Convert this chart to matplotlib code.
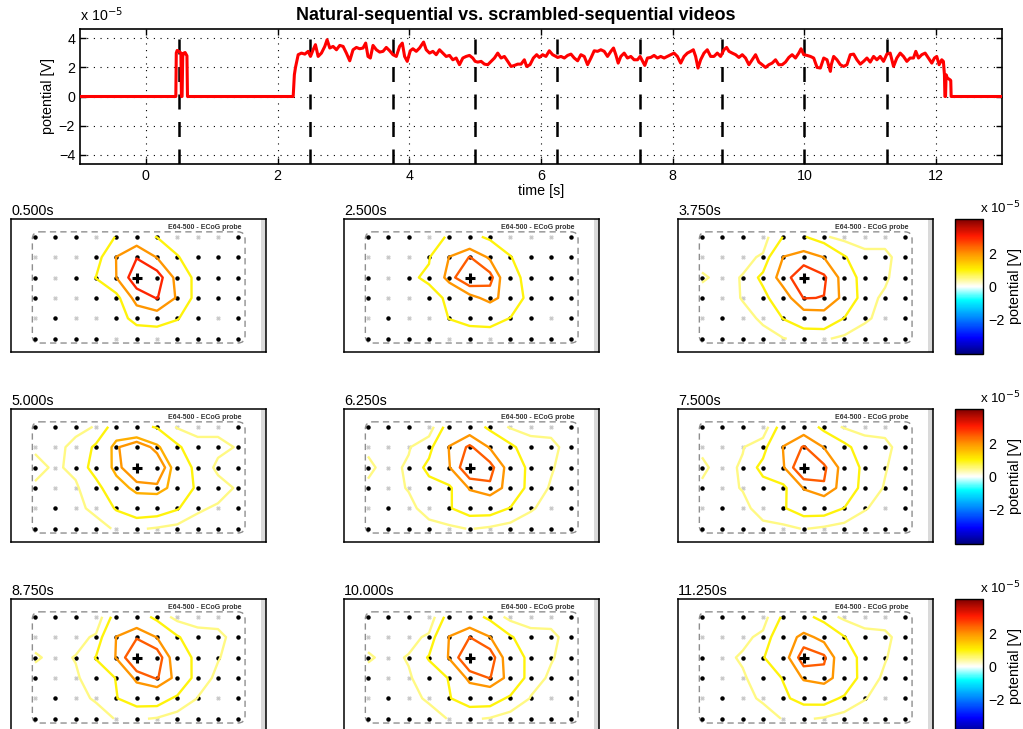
import numpy as np
import matplotlib as mpl
import matplotlib.pyplot as plt
from matplotlib.colors import LinearSegmentedColormap, Normalize
from matplotlib.patches import FancyBboxPatch

plt.rcParams['font.family'] = ['Liberation Sans', 'DejaVu Sans']

# ---- data (potential in units of 1e-5 V) ----
sig_t = [-1.0, 0.455, 0.462, 0.475, 0.500, 0.520, 0.532, 0.540, 0.550, 0.560, 0.572, 0.596,
         0.612, 0.624, 0.632, 2.237, 2.255, 2.272, 2.313,
         2.363, 2.414, 2.464, 2.500, 2.540, 2.575, 2.616, 2.666, 2.717, 2.752, 2.793, 2.843,
         2.894, 2.944, 2.995, 3.045, 3.096, 3.146, 3.197, 3.247, 3.298, 3.338, 3.373, 3.409,
         3.449, 3.500, 3.550, 3.601, 3.651, 3.702, 3.752, 3.803, 3.853, 3.894, 3.929, 3.969,
         4.015, 4.055, 4.106, 4.156, 4.217, 4.257, 4.308, 4.358, 4.409, 4.459, 4.510, 4.560,
         4.611, 4.661, 4.712, 4.762, 4.813, 4.863, 4.914, 4.964, 5.000, 5.040, 5.091, 5.141,
         5.192, 5.242, 5.293, 5.343, 5.394, 5.444, 5.495, 5.545, 5.596, 5.646, 5.697, 5.747,
         5.782, 5.833, 5.884, 5.934, 5.975, 6.025, 6.075, 6.126, 6.176, 6.227,
         6.253, 6.303, 6.354, 6.404, 6.455, 6.505, 6.556, 6.606, 6.657, 6.707, 6.758, 6.808,
         6.859, 6.909, 6.960, 7.010, 7.061, 7.101, 7.136, 7.172, 7.212, 7.263, 7.313, 7.364,
         7.414, 7.465, 7.505, 7.540, 7.576, 7.616, 7.667, 7.717, 7.768, 7.818, 7.869, 7.919,
         7.970, 8.020, 8.071, 8.121, 8.172, 8.222, 8.273, 8.313, 8.348, 8.384, 8.424, 8.475,
         8.525, 8.576, 8.626, 8.677, 8.727, 8.778, 8.818, 8.854, 8.904, 8.955, 9.005, 9.056,
         9.106, 9.157, 9.207, 9.258, 9.308, 9.359, 9.409, 9.460, 9.510, 9.561, 9.611, 9.662,
         9.712, 9.763, 9.813, 9.864, 9.914, 9.949, 9.990, 10.040, 10.091, 10.141, 10.192,
         10.242, 10.293, 10.343, 10.394,
         10.408, 10.444, 10.494, 10.545, 10.595, 10.646, 10.696, 10.747, 10.797, 10.848,
         10.898, 10.949, 10.999, 11.050, 11.100, 11.151, 11.201, 11.252, 11.302, 11.353,
         11.403, 11.454, 11.504, 11.555, 11.605, 11.656, 11.691, 11.732, 11.782, 11.833,
         11.883, 11.934, 11.974, 12.009, 12.045, 12.085, 12.110, 12.126, 12.133, 12.143,
         12.151, 12.171, 12.212, 12.222, 12.228, 13.0]
sig_v = [0.0, 0.0, 3.00, 3.17, 3.12, 3.05, 3.00, 0.0, 0.0, 2.75, 2.98, 3.03,
         2.90, 2.80, 0.0, 0.0, 1.50, 2.00, 2.88,
         2.99, 2.92, 3.11, 2.76, 3.22, 3.57, 2.76, 2.99, 3.45, 3.91, 3.34, 3.45,
         3.22, 3.52, 3.45, 2.99, 2.46, 3.22, 3.38, 3.29, 3.34, 3.68, 2.76, 2.65,
         3.52, 3.22, 3.06, 3.11, 3.38, 3.15, 2.88, 2.76, 3.45, 3.68, 2.76, 2.42,
         3.15, 3.29, 3.11, 3.34, 3.75, 3.22, 2.99, 3.11, 2.88, 3.22, 2.99, 2.76,
         2.83, 2.53, 2.65, 2.19, 2.65, 2.76, 2.83, 2.65, 2.42, 2.37, 2.42, 2.23,
         2.19, 2.42, 2.65, 2.99, 2.65, 2.76, 2.42, 2.07, 2.14, 2.23, 2.23, 2.53,
         2.07, 2.19, 2.65, 2.88, 2.69, 2.88, 2.76, 3.15, 2.88, 2.76,
         2.69, 2.76, 2.65, 2.83, 2.92, 2.65, 2.46, 2.88, 2.76, 2.19, 2.65, 3.15,
         3.11, 3.22, 3.11, 2.76, 3.11, 3.34, 2.88, 2.30, 2.76, 2.99, 2.65, 2.76,
         2.53, 2.53, 2.76, 2.46, 2.14, 2.65, 2.69, 2.83, 2.65, 2.76, 2.65, 2.76,
         2.88, 2.99, 2.76, 2.30, 2.76, 2.99, 3.11, 3.22, 2.76, 1.96, 2.53, 2.99,
         3.22, 2.76, 2.76, 2.99, 2.76, 3.22, 3.38, 3.11, 2.99, 2.88, 2.69, 2.88,
         2.65, 2.19, 2.53, 2.88, 2.37, 2.19, 2.00, 2.19, 2.30, 2.53, 2.19, 2.19,
         2.37, 2.69, 2.88, 2.65, 2.99, 3.29, 2.88, 2.83, 2.76, 2.65, 2.00,
         1.96, 2.65, 2.53, 1.73,
         2.19, 2.76, 2.53, 2.19, 2.07, 2.19, 2.88, 2.92, 2.53, 2.23,
         2.42, 2.65, 2.37, 2.76, 2.53, 2.76, 2.42, 2.92, 2.99, 2.07,
         2.65, 2.99, 2.76, 2.42, 2.65, 2.65, 3.11, 2.65, 2.88, 2.99,
         2.65, 2.30, 2.65, 2.76, 2.19, 2.53, 2.42, 1.50, 0.0, 0.0,
         1.50, 1.27, 1.15, 1.10, 0.0, 0.0]

frame_times = [0.5, 2.5, 3.75, 5.0, 6.25, 7.5, 8.75, 10.0, 11.25]

# electrode potentials (6 rows x 11 columns) for each snapshot
grid_0500 = [[0.30, 0.35, 0.45, 0.60, 1.03, 1.25, 0.97, 0.60, 0.45, 0.35, 0.30],
             [0.30, 0.40, 0.50, 0.60, 2.02, 2.95, 1.95, 1.05, 0.55, 0.40, 0.30],
             [0.30, 0.40, 0.60, 1.02, 2.00, 3.70, 3.54, 1.62, 0.73, 0.45, 0.30],
             [0.30, 0.40, 0.50, 0.60, 0.70, 2.40, 3.05, 1.88, 0.62, 0.40, 0.30],
             [0.30, 0.35, 0.40, 0.50, 0.60, 1.30, 1.38, 1.05, 0.50, 0.35, 0.30],
             [0.25, 0.30, 0.35, 0.35, 0.40, 0.40, 0.45, 0.40, 0.35, 0.30, 0.25]]
grid_2500 = [[0.20, 0.30, 0.40, 0.70, 1.08, 1.25, 0.83, 0.60, 0.40, 0.30, 0.20],
             [0.30, 0.40, 0.60, 0.95, 2.02, 2.52, 1.90, 1.03, 0.60, 0.40, 0.30],
             [0.30, 0.50, 0.90, 1.10, 2.30, 3.00, 2.70, 1.30, 0.70, 0.40, 0.30],
             [0.30, 0.40, 0.60, 0.80, 1.10, 1.80, 2.20, 1.70, 0.62, 0.40, 0.30],
             [0.20, 0.30, 0.40, 0.60, 1.02, 1.30, 1.30, 0.98, 0.60, 0.30, 0.20],
             [0.20, 0.20, 0.30, 0.40, 0.50, 0.50, 0.60, 0.50, 0.40, 0.30, 0.20]]
grid_3750 = [[0.30, 0.30, 0.35, 0.30, 1.02, 1.05, 0.55, 0.35, 0.35, 0.35, 0.30],
             [0.35, 0.35, 0.40, 0.55, 2.02, 2.40, 1.98, 1.05, 0.60, 0.60, 0.30],
             [0.55, 0.40, 0.52, 1.16, 2.45, 3.40, 2.94, 1.60, 0.60, 0.55, 0.30],
             [0.35, 0.35, 0.52, 0.80, 1.50, 2.83, 2.78, 1.73, 0.60, 0.45, 0.30],
             [0.30, 0.30, 0.40, 0.55, 1.02, 1.40, 1.50, 0.98, 0.55, 0.40, 0.30],
             [0.30, 0.30, 0.30, 0.40, 0.48, 0.60, 0.55, 0.40, 0.35, 0.30, 0.30]]
grid_5000 = [[0.40, 0.40, 0.40, 0.52, 1.32, 1.15, 0.95, 0.45, 0.40, 0.40, 0.40],
             [0.45, 0.40, 0.60, 1.10, 1.95, 2.30, 1.86, 1.10, 0.60, 0.60, 0.47],
             [0.60, 0.45, 0.58, 1.28, 1.89, 2.31, 2.33, 1.50, 0.79, 0.41, 0.40],
             [0.45, 0.30, 0.45, 0.77, 1.54, 1.87, 1.92, 1.58, 0.86, 0.65, 0.45],
             [0.40, 0.35, 0.40, 0.60, 1.05, 1.40, 1.35, 1.05, 0.55, 0.45, 0.40],
             [0.35, 0.35, 0.35, 0.35, 0.55, 0.55, 0.45, 0.35, 0.35, 0.35, 0.35]]
grid_6250 = [[0.35, 0.35, 0.30, 0.25, 1.30, 1.58, 0.78, 0.45, 0.35, 0.38, 0.30],
             [0.45, 0.40, 0.47, 0.78, 2.04, 2.60, 1.95, 1.12, 0.68, 0.60, 0.35],
             [0.56, 0.40, 0.55, 1.18, 1.97, 3.00, 2.70, 1.70, 0.74, 0.53, 0.35],
             [0.45, 0.40, 0.52, 0.76, 0.85, 2.08, 2.40, 1.72, 0.68, 0.47, 0.35],
             [0.35, 0.35, 0.42, 0.62, 0.96, 1.28, 1.30, 0.97, 0.53, 0.40, 0.35],
             [0.30, 0.30, 0.32, 0.40, 0.40, 0.52, 0.42, 0.30, 0.35, 0.30, 0.30]]
grid_7500 = [[0.35, 0.35, 0.30, 0.20, 1.34, 1.63, 0.73, 0.45, 0.35, 0.40, 0.30],
             [0.45, 0.40, 0.48, 0.75, 2.03, 2.55, 1.98, 1.15, 0.70, 0.58, 0.35],
             [0.55, 0.40, 0.54, 1.20, 1.95, 3.10, 2.60, 1.74, 0.75, 0.52, 0.35],
             [0.46, 0.40, 0.52, 0.75, 0.80, 2.05, 2.45, 1.70, 0.66, 0.48, 0.35],
             [0.35, 0.35, 0.40, 0.65, 0.95, 1.30, 1.33, 0.98, 0.52, 0.40, 0.35],
             [0.30, 0.30, 0.30, 0.40, 0.38, 0.52, 0.41, 0.30, 0.35, 0.30, 0.30]]
grid_8750 = [[0.30, 0.30, 0.30, 0.15, 1.30, 1.45, 0.77, 0.35, 0.30, 0.30, 0.30],
             [0.35, 0.35, 0.35, 0.57, 2.02, 2.45, 1.98, 1.05, 0.68, 0.63, 0.30],
             [0.55, 0.40, 0.52, 1.03, 2.05, 3.10, 2.86, 1.48, 0.79, 0.52, 0.35],
             [0.35, 0.35, 0.45, 0.70, 1.02, 2.20, 2.55, 1.79, 0.66, 0.43, 0.30],
             [0.30, 0.30, 0.40, 0.54, 0.98, 1.30, 1.33, 0.87, 0.49, 0.35, 0.30],
             [0.30, 0.30, 0.30, 0.35, 0.52, 0.55, 0.46, 0.30, 0.30, 0.30, 0.30]]
grid_10000 = [[0.30, 0.30, 0.30, 0.18, 1.28, 1.42, 0.78, 0.36, 0.30, 0.32, 0.30],
              [0.36, 0.35, 0.36, 0.58, 2.03, 2.50, 2.02, 1.06, 0.66, 0.62, 0.30],
              [0.55, 0.40, 0.53, 1.05, 2.07, 3.05, 2.84, 1.50, 0.78, 0.53, 0.35],
              [0.35, 0.36, 0.46, 0.70, 1.03, 2.22, 2.52, 1.76, 0.66, 0.44, 0.30],
              [0.30, 0.30, 0.40, 0.55, 0.97, 1.32, 1.34, 0.88, 0.48, 0.35, 0.30],
              [0.30, 0.30, 0.30, 0.36, 0.52, 0.56, 0.46, 0.30, 0.30, 0.30, 0.30]]
grid_11250 = [[0.30, 0.30, 0.30, 0.30, 1.10, 1.25, 0.70, 0.40, 0.30, 0.30, 0.30],
              [0.35, 0.35, 0.40, 0.60, 1.60, 2.20, 1.80, 1.02, 0.65, 0.60, 0.30],
              [0.45, 0.40, 0.55, 0.95, 1.70, 2.80, 2.60, 1.40, 0.75, 0.52, 0.35],
              [0.35, 0.35, 0.45, 0.70, 1.03, 2.10, 2.30, 1.60, 0.65, 0.45, 0.30],
              [0.30, 0.30, 0.40, 0.55, 0.90, 1.20, 1.25, 0.90, 0.52, 0.35, 0.30],
              [0.30, 0.30, 0.30, 0.35, 0.52, 0.55, 0.45, 0.30, 0.30, 0.30, 0.30]]
panel_grids = [grid_0500, grid_2500, grid_3750, grid_5000, grid_6250,
               grid_7500, grid_8750, grid_10000, grid_11250]
panel_levels = [[1, 2, 3], [1, 2, 2.5], [0.5, 1, 2, 2.8], [0.5, 1, 1.75, 2],
                [0.5, 1, 2, 2.5], [0.5, 1, 2, 2.5], [0.5, 1, 2, 2.5],
                [0.5, 1, 2, 2.5], [0.5, 1, 2, 2.5]]

# electrodes that show up faint on the probe picture (col, row)
faint_electrodes = [(3, 0), (7, 0), (8, 0), (9, 0), (0, 1), (1, 1), (2, 1), (1, 2),
                    (1, 3), (2, 3), (0, 4), (2, 4), (3, 4), (9, 4), (4, 5), (6, 5)]
stim_electrode = (5, 2)
clim = 4.15

# ---- colormap: blue - cyan - white - yellow - red ----
cmap = LinearSegmentedColormap.from_list("potential", [
    (0.0, (0.0, 0.0, 0.5)), (0.12, (0.0, 0.0, 1.0)), (0.26, (0.0, 0.5, 1.0)),
    (0.40, (0.0, 1.0, 1.0)), (0.5, (1.0, 1.0, 1.0)), (0.625, (1.0, 0.95, 0.0)),
    (0.75, (1.0, 0.56, 0.0)), (0.875, (1.0, 0.1, 0.0)), (1.0, (0.5, 0.0, 0.0))])
norm = Normalize(vmin=-clim, vmax=clim)

FS = 10.3
W, H = 1023, 729
fig = plt.figure(figsize=(W / 100, H / 100), dpi=100)

# ---- top: potential trace ----
ax = fig.add_axes([80 / W, 1 - 164 / H, 922 / W, 135 / H])
ax.plot(sig_t, sig_v, color="red", lw=2.2, zorder=3)
for ft in frame_times:
    ax.axvline(ft, color="black", lw=1.8, ls=(0, (6, 5)), zorder=2)
ax.set_xlim(-1, 13)
ax.set_ylim(-4.65, 4.65)
ax.set_xticks(range(0, 13, 2))
ax.set_yticks([-4, -2, 0, 2, 4])
ax.grid(True, color="black", ls=(0, (1, 5)), lw=0.8)
ax.tick_params(direction="in", top=True, right=True, length=4, labelsize=FS, width=1)
for s in ax.spines.values():
    s.set_linewidth(1.2)
ax.set_xlabel("time [s]", fontsize=FS, labelpad=1)
ax.set_ylabel("potential [V]", fontsize=FS, labelpad=3)
fig.text(80 / W, 1 - 15 / H, r"x 10$^{-5}$", fontsize=FS, va="center", ha="left")
fig.text(516 / W, 1 - 15 / H, "Natural-sequential vs. scrambled-sequential videos",
         fontsize=13, fontweight="bold", ha="center", va="center")

# ---- snapshot panels ----
cols = np.arange(11)
rows = np.arange(6)
ex, ey = np.meshgrid(cols, rows)
panel_lefts = [11, 344, 678]
panel_tops = [219, 409, 599]
pw, ph = 255, 133

for i, (ft, grid, levels) in enumerate(zip(frame_times, panel_grids, panel_levels)):
    r, c = divmod(i, 3)
    pax = fig.add_axes([panel_lefts[c] / W, 1 - (panel_tops[r] + ph) / H, pw / W, ph / H])
    pax.set_xlim(-1.18, 11.36)
    pax.set_ylim(5.65, -0.87)
    pax.axvspan(11.12, 11.36, color="#dadada", lw=0, zorder=0)
    pax.add_patch(FancyBboxPatch((-0.13, -0.24), 10.46, 5.45,
                                 boxstyle="round,pad=0,rounding_size=0.35",
                                 fill=False, ec="#8f8f8f", lw=1.0, ls=(0, (4.5, 3)), zorder=1))
    pax.plot(ex.ravel(), ey.ravel(), "o", ms=2.2, color="black", ls="none", zorder=1)
    fx = [p[0] for p in faint_electrodes]
    fy = [p[1] for p in faint_electrodes]
    pax.plot(fx, fy, "o", ms=2.6, color="white", ls="none", zorder=1.1)
    pax.plot(fx, fy, "o", ms=1.5, color="#c8c8c8", ls="none", zorder=1.2)
    pax.contour(cols, rows, np.array(grid), levels=levels, cmap=cmap, norm=norm,
                linewidths=1.7, zorder=2)
    pax.plot(*stim_electrode, "+", ms=7, mew=2.2, color="black", zorder=3)
    pax.text(10.15, -0.47, "E64-500 - ECoG probe", fontsize=5, fontweight="bold",
             color="#333333", ha="right", va="center")
    pax.set_xticks([])
    pax.set_yticks([])
    for s in pax.spines.values():
        s.set_linewidth(1.1)
    pax.set_title(f"{ft:.3f}s", loc="left", fontsize=FS, pad=3)

# ---- colorbars ----
for top in panel_tops:
    cax = fig.add_axes([955 / W, 1 - (top + 135) / H, 28 / W, 135 / H])
    cb = fig.colorbar(mpl.cm.ScalarMappable(norm=norm, cmap=cmap), cax=cax)
    cb.set_ticks([-2, 0, 2])
    cb.ax.tick_params(length=0, labelsize=FS, pad=4)
    cb.outline.set_linewidth(1.0)
    cb.set_label("potential [V]", fontsize=FS, labelpad=2)
    fig.text(1020 / W, 1 - (top - 11) / H, r"x 10$^{-5}$", fontsize=9.6,
             ha="right", va="center")

fig.savefig("out.png", dpi=100)
